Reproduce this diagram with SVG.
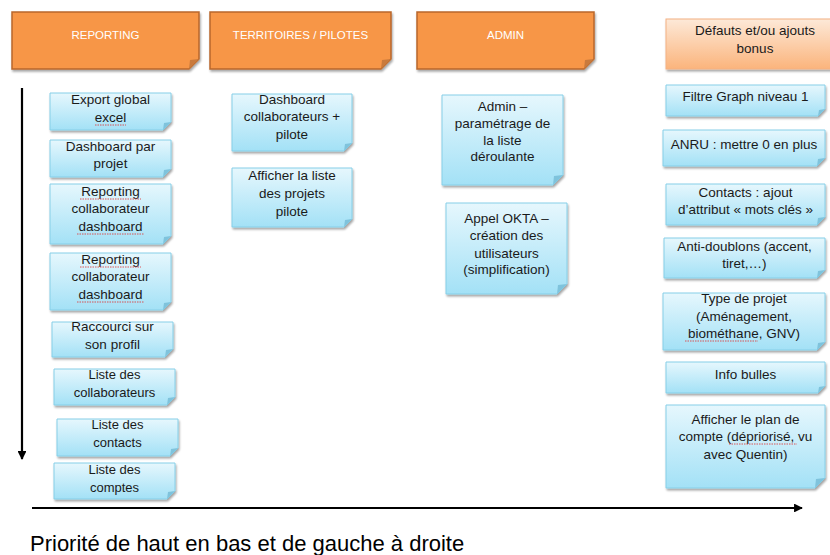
<svg xmlns="http://www.w3.org/2000/svg" width="830" height="555" viewBox="0 0 830 555">
<defs>
<linearGradient id="gBlue" x1="0" y1="0" x2="0" y2="1">
<stop offset="0" stop-color="#e6f7fd"/>
<stop offset="1" stop-color="#a3e1f6"/>
</linearGradient>
<linearGradient id="gPeach" x1="0" y1="0" x2="0" y2="1">
<stop offset="0" stop-color="#fde9d8"/>
<stop offset="1" stop-color="#fbb47c"/>
</linearGradient>
<filter id="sh" x="-10%" y="-10%" width="130%" height="140%">
<feDropShadow dx="1" dy="2" stdDeviation="1.3" flood-color="#000" flood-opacity="0.35"/>
</filter>
<marker id="ah" viewBox="0 0 10 10" refX="9" refY="5" markerWidth="4" markerHeight="4" orient="auto" markerUnits="strokeWidth">
<path d="M0 0 L10 5 L0 10 z" fill="#000"/>
</marker>
<style>
.note{fill:url(#gBlue);stroke:#86cfe8;stroke-width:1;filter:url(#sh)}
.fold{fill:#7fc3dc;stroke:none}
.hdr{fill:#f79646;stroke:#b9672b;stroke-width:1.5;filter:url(#sh)}
.hfold{fill:#c97a3c;stroke:none}
.peach{fill:url(#gPeach);stroke:#f4b183;stroke-width:1;filter:url(#sh)}
.ht{font-family:"Liberation Sans",Arial,sans-serif;font-size:11.5px;fill:#fff;text-anchor:middle}
.t{font-family:"Liberation Sans",Arial,sans-serif;font-size:13.5px;fill:#1a1a1a;text-anchor:middle}
.ts{font-family:"Liberation Sans",Arial,sans-serif;font-size:13px;fill:#1a1a1a;text-anchor:middle}
.sq{fill:none;stroke:#e03030;stroke-width:0.8;stroke-dasharray:1.5 1}
.ax{stroke:#000;stroke-width:2.2;fill:none}
.cap{font-family:"Liberation Sans",Arial,sans-serif;font-size:22px;fill:#000}
</style>
</defs>

<!-- headers -->
<g id="h-reporting" transform="translate(12,12)">
<path class="hdr" d="M0 0 H187 V47 L177 57 H0 Z"/>
<path class="hfold" d="M187 47 L177 57 L178 48 Z"/>
<text class="ht" x="93.5" y="27">REPORTING</text>
</g>
<g id="h-territoires" transform="translate(210,12)">
<path class="hdr" d="M0 0 H181 V47 L171 57 H0 Z"/>
<path class="hfold" d="M181 47 L171 57 L172 48 Z"/>
<text class="ht" x="90.5" y="27">TERRITOIRES / PILOTES</text>
</g>
<g id="h-admin" transform="translate(417,12)">
<path class="hdr" d="M0 0 H177 V47 L167 57 H0 Z"/>
<path class="hfold" d="M177 47 L167 57 L168 48 Z"/>
<text class="ht" x="88.5" y="27">ADMIN</text>
</g>
<g id="h-defauts" transform="translate(666,19)">
<rect class="peach" x="0" y="0" width="177" height="50"/>
<text class="t" x="89" y="16">Défauts et/ou ajouts</text>
<text class="t" x="89" y="34">bonus</text>
</g>

<!-- REPORTING column -->
<g id="n-export" transform="translate(50,93)">
<path class="note" d="M0 0 H121 V29 L113 37 H0 Z"/><path class="fold" d="M121 29 L113 37 L114 30 Z"/>
<text class="t" x="60.5" y="11">Export global</text>
<text class="t" x="60.5" y="29">excel</text>
<path class="sq" d="M45 32 H76"/>
</g>
<g id="n-dashprojet" transform="translate(50,140)">
<path class="note" d="M0 0 H121 V29 L113 37 H0 Z"/><path class="fold" d="M121 29 L113 37 L114 30 Z"/>
<text class="t" x="60.5" y="11">Dashboard par</text>
<text class="t" x="60.5" y="28">projet</text>
</g>
<g id="n-reporting1" transform="translate(50,184)">
<path class="note" d="M0 0 H121 V52 L113 60 H0 Z"/><path class="fold" d="M121 52 L113 60 L114 53 Z"/>
<text class="t" x="60.5" y="12">Reporting</text>
<text class="t" x="60.5" y="29">collaborateur</text>
<text class="t" x="60.5" y="47">dashboard</text>
<path class="sq" d="M30 15 H91 M27 50 H94"/>
</g>
<g id="n-reporting2" transform="translate(50,253)">
<path class="note" d="M0 0 H121 V49 L113 57 H0 Z"/><path class="fold" d="M121 49 L113 57 L114 50 Z"/>
<text class="t" x="60.5" y="11">Reporting</text>
<text class="t" x="60.5" y="28">collaborateur</text>
<text class="t" x="60.5" y="46">dashboard</text>
<path class="sq" d="M30 14 H91 M27 49 H94"/>
</g>
<g id="n-raccourci" transform="translate(52,322)">
<path class="note" d="M0 0 H121 V27 L113 35 H0 Z"/><path class="fold" d="M121 27 L113 35 L114 28 Z"/>
<text class="t" x="60.5" y="9">Raccourci sur</text>
<text class="t" x="60.5" y="27">son profil</text>
</g>
<g id="n-collab" transform="translate(54,369)">
<path class="note" d="M0 0 H121 V28 L113 36 H0 Z"/><path class="fold" d="M121 28 L113 36 L114 29 Z"/>
<text class="ts" x="60.5" y="10">Liste des</text>
<text class="ts" x="60.5" y="28">collaborateurs</text>
</g>
<g id="n-contacts" transform="translate(57,419)">
<path class="note" d="M0 0 H121 V29 L113 37 H0 Z"/><path class="fold" d="M121 29 L113 37 L114 30 Z"/>
<text class="ts" x="60.5" y="10">Liste des</text>
<text class="ts" x="60.5" y="28">contacts</text>
</g>
<g id="n-comptes" transform="translate(54,463)">
<path class="note" d="M0 0 H121 V28 L113 36 H0 Z"/><path class="fold" d="M121 28 L113 36 L114 29 Z"/>
<text class="ts" x="60.5" y="11">Liste des</text>
<text class="ts" x="60.5" y="29">comptes</text>
</g>

<!-- TERRITOIRES column -->
<g id="n-dashcollab" transform="translate(232,94)">
<path class="note" d="M0 0 H120 V49 L112 57 H0 Z"/><path class="fold" d="M120 49 L112 57 L113 50 Z"/>
<text class="t" x="60" y="10">Dashboard</text>
<text class="t" x="60" y="27">collaborateurs +</text>
<text class="t" x="60" y="45">pilote</text>
</g>
<g id="n-projetspilote" transform="translate(232,168)">
<path class="note" d="M0 0 H120 V51 L112 59 H0 Z"/><path class="fold" d="M120 51 L112 59 L113 52 Z"/>
<text class="t" x="60" y="12">Afficher la liste</text>
<text class="t" x="60" y="30">des projets</text>
<text class="t" x="60" y="48">pilote</text>
</g>

<!-- ADMIN column -->
<g id="n-admin" transform="translate(442,95)">
<path class="note" d="M0 0 H121 V80 L111 90 H0 Z"/><path class="fold" d="M121 80 L111 90 L112 81 Z"/>
<text class="t" x="60.5" y="16">Admin –</text>
<text class="t" x="60.5" y="33">paramétrage de</text>
<text class="t" x="60.5" y="50">la liste</text>
<text class="t" x="60.5" y="66">déroulante</text>
</g>
<g id="n-okta" transform="translate(446,203)">
<path class="note" d="M0 0 H121 V81 L111 91 H0 Z"/><path class="fold" d="M121 81 L111 91 L112 82 Z"/>
<text class="t" x="60.5" y="20">Appel OKTA –</text>
<text class="t" x="60.5" y="37">création des</text>
<text class="t" x="60.5" y="55">utilisateurs</text>
<text class="t" x="60.5" y="71">(simplification)</text>
</g>

<!-- Defauts column -->
<g id="n-filtre" transform="translate(666,85)">
<path class="note" d="M0 0 H159 V24 L152 31 H0 Z"/><path class="fold" d="M159 24 L152 31 L153 25 Z"/>
<text class="t" x="79.5" y="16">Filtre Graph niveau 1</text>
</g>
<g id="n-anru" transform="translate(663,130)">
<path class="note" d="M0 0 H162 V28 L154 36 H0 Z"/><path class="fold" d="M162 28 L154 36 L155 29 Z"/>
<text class="t" x="81" y="19">ANRU : mettre 0 en plus</text>
</g>
<g id="n-contactsattr" transform="translate(666,184)">
<path class="note" d="M0 0 H159 V33 L151 41 H0 Z"/><path class="fold" d="M159 33 L151 41 L152 34 Z"/>
<text class="t" x="79.5" y="13">Contacts : ajout</text>
<text class="t" x="79.5" y="30">d’attribut « mots clés »</text>
</g>
<g id="n-antidoublons" transform="translate(664,238)">
<path class="note" d="M0 0 H161 V32 L153 40 H0 Z"/><path class="fold" d="M161 32 L153 40 L154 33 Z"/>
<text class="t" x="80.5" y="13">Anti-doublons (accent,</text>
<text class="t" x="80.5" y="30">tiret,…)</text>
</g>
<g id="n-typeprojet" transform="translate(663,293)">
<path class="note" d="M0 0 H162 V49 L154 57 H0 Z"/><path class="fold" d="M162 49 L154 57 L155 50 Z"/>
<text class="t" x="81" y="10">Type de projet</text>
<text class="t" x="81" y="28">(Aménagement,</text>
<text class="t" x="81" y="45">biométhane, GNV)</text>
<path class="sq" d="M22 48 H95"/>
</g>
<g id="n-infobulles" transform="translate(666,362)">
<path class="note" d="M0 0 H159 V24 L152 31 H0 Z"/><path class="fold" d="M159 24 L152 31 L153 25 Z"/>
<text class="t" x="79.5" y="17">Info bulles</text>
</g>
<g id="n-plan" transform="translate(666,405)">
<path class="note" d="M0 0 H159 V73 L149 83 H0 Z"/><path class="fold" d="M159 73 L149 83 L150 74 Z"/>
<text class="t" x="79.5" y="19">Afficher le plan de</text>
<text class="t" x="79.5" y="36">compte (dépriorisé, vu</text>
<text class="t" x="79.5" y="54">avec Quentin)</text>
<path class="sq" d="M63 39 H131"/>
</g>

<!-- connectors / axes -->
<g id="connectors">
<line class="ax" x1="22" y1="88" x2="22" y2="459" marker-end="url(#ah)"/>
<line class="ax" x1="32" y1="508" x2="802" y2="508" marker-end="url(#ah)"/>
</g>

<text class="cap" x="30" y="551">Priorité de haut en bas et de gauche à droite</text>
</svg>
